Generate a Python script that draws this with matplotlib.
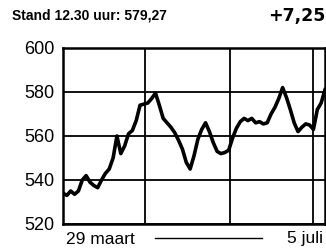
import matplotlib
matplotlib.use("Agg")
import matplotlib.pyplot as plt
import numpy as np

# Data (trading days from 29 maart to 5 juli)
koers = [534, 533, 535, 533.5, 535, 540, 542, 539, 537.5, 536.5,
         540, 543, 545, 550, 560, 552, 555.5, 561, 562.5, 567,
         574, 574.5, 575, 577, 579.5, 574, 568, 566, 564, 561.5,
         558, 554, 548, 545, 551, 558.5, 563, 566, 562, 557,
         553, 552, 552.5, 553.5, 559, 563.5, 566.5, 568, 567, 568,
         566, 566.5, 565.5, 566, 570, 573, 577, 582, 577.5, 572,
         566, 562, 564, 565.5, 565, 563, 572, 575, 581]
dagen = np.arange(len(koers))
maandgrenzen = [21.3, 43.4, 64.9]
y_ticks = [520, 540, 560, 580, 600]
titel = "Stand 12.30 uur: 579,27"
verschil = "+7,25"
start_label = "29 maart"
eind_label = "5 juli"

plt.rcParams['font.family'] = ['Liberation Sans Narrow', 'Liberation Sans', 'DejaVu Sans']

fig = plt.figure(figsize=(3.26, 2.48), dpi=100)
ax = fig.add_axes([63/326, 24/248, 262/326, 176/248])

ax.plot(dagen, koers, color='black', lw=2.6, solid_joinstyle='round')
ax.set_xlim(0, len(koers) - 1)
ax.set_ylim(520, 600)

for y in y_ticks:
    ax.axhline(y, color='black', lw=1.3, zorder=0)
for x in maandgrenzen:
    ax.axvline(x, color='black', lw=1.3, zorder=0)

for s in ax.spines.values():
    s.set_linewidth(1.8)

ax.set_xticks([])
ax.set_yticks(y_ticks)
ax.set_yticklabels([str(v) for v in y_ticks], fontsize=13)
ax.tick_params(axis='y', length=0, pad=6)

fig.text(12/326, 1 - 16/248, titel, fontsize=10, fontweight='bold',
         va='center', ha='left')
fig.text(325/326, 1 - 16/248, verschil, fontsize=12.5, fontweight='bold',
         va='center', ha='right', family='DejaVu Sans')
fig.text(66/326, 1 - 239/248, start_label, fontsize=12.5, va='center', ha='left')
fig.text(323/326, 1 - 239/248, eind_label, fontsize=12.5, va='center', ha='right')
fig.add_artist(plt.Line2D([155/326, 262/326], [1 - 238/248, 1 - 238/248],
                          color='black', lw=1.0))

fig.savefig("out.png", dpi=100)
